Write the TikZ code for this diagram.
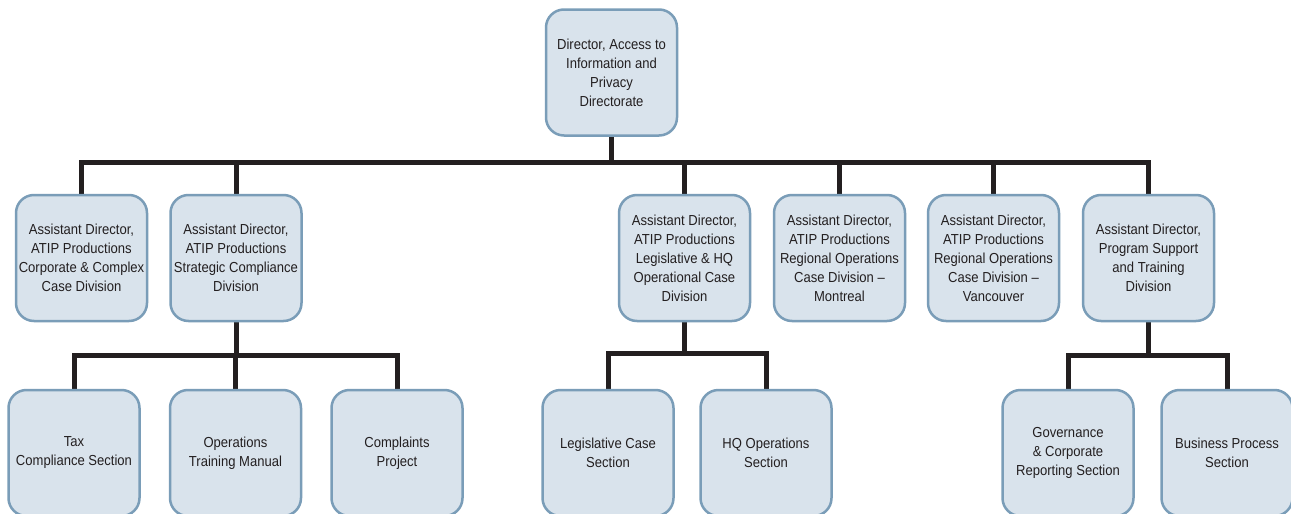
\documentclass[tikz,border=0pt]{standalone}
\usepackage{fontspec}
\setmainfont{Liberation Sans}[FakeStretch=0.9]
\usetikzlibrary{backgrounds}
\definecolor{boxfill}{HTML}{D9E3EC}
\definecolor{boxline}{HTML}{7A9DB8}
\definecolor{linkcol}{HTML}{231F20}
\tikzset{
  orgbox/.style={draw=boxline,fill=boxfill,line width=2.5pt,rounded corners=18pt,
                 minimum width=131pt,minimum height=126pt,align=center,inner sep=2pt,
                 text=linkcol,font=\fontsize{14.5}{19}\selectfont},
  link/.style={draw=linkcol,line width=5pt,line join=miter}
}
\begin{document}
\begin{tikzpicture}[x=1pt,y=-1pt]
  \useasboundingbox (0,0) rectangle (1291,514);
  % bus lines
  \coordinate (busA) at (612,162);
  \coordinate (busB) at (236,355);
  \coordinate (busC) at (684,353);
  \coordinate (busD) at (1148,355);
  % director
  \node[orgbox] (dir) at (611.5,72.5) {Director, Access to\\Information and\\Privacy\\Directorate};
  % assistant directors
  \node[orgbox] (ad1) at (81.5,258)   {Assistant Director,\\ATIP Productions\\Corporate \& Complex\\Case Division};
  \node[orgbox] (ad2) at (236,258)    {Assistant Director,\\ATIP Productions\\Strategic Compliance\\Division};
  \node[orgbox] (ad3) at (684.5,258)  {Assistant Director,\\ATIP Productions\\Legislative \& HQ\\Operational Case\\Division};
  \node[orgbox] (ad4) at (839.5,258)  {Assistant Director,\\ATIP Productions\\Regional Operations\\Case Division –\\Montreal};
  \node[orgbox] (ad5) at (993.5,258)  {Assistant Director,\\ATIP Productions\\Regional Operations\\Case Division –\\Vancouver};
  \node[orgbox] (ad6) at (1148.5,258) {Assistant Director,\\Program Support\\and Training\\Division};
  % sections
  \node[orgbox] (tax)  at (74,453)    {Tax\\Compliance Section};
  \node[orgbox] (otm)  at (235.5,453) {Operations\\Training Manual};
  \node[orgbox] (cpl)  at (397,453)   {Complaints\\Project};
  \node[orgbox] (leg)  at (608,453)   {Legislative Case\\Section};
  \node[orgbox] (hq)   at (766,453)   {HQ Operations\\Section};
  \node[orgbox] (gov)  at (1068,453)  {Governance\\\& Corporate\\Reporting Section};
  \node[orgbox] (bus)  at (1227,453)  {Business Process\\Section};
  % connectors
  \begin{scope}[on background layer]
    \fill[white] (0,0) rectangle (1291,514);
    \draw[link] (ad1.north) |- (ad6.north |- busA) -- (ad6.north);
    \draw[link] (dir.south) -- (dir.south |- busA);
    \foreach \n in {ad2,ad3,ad4,ad5} \draw[link] (\n.north) -- (\n.north |- busA);
    \draw[link] (ad2.south) -- (ad2.south |- busB);
    \draw[link] (tax.north) |- (cpl.north |- busB) -- (cpl.north);
    \draw[link] (otm.north) -- (otm.north |- busB);
    \draw[link] (ad3.south) -- (ad3.south |- busC);
    \draw[link] (leg.north) |- (hq.north |- busC) -- (hq.north);
    \draw[link] (ad6.south) -- (ad6.south |- busD);
    \draw[link] (gov.north) |- (bus.north |- busD) -- (bus.north);
  \end{scope}
\end{tikzpicture}
\end{document}
